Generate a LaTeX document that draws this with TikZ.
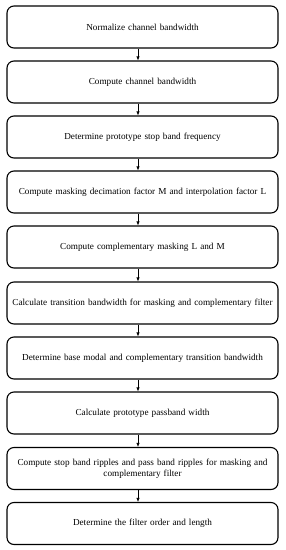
\documentclass[tikz,border=0pt]{standalone}
\usepackage{fontspec}
\setmainfont{Liberation Serif}
\usetikzlibrary{arrows.meta}
\begin{document}
\begin{tikzpicture}[x=1pt,y=-1pt,
  stepbox/.style={draw=black,line width=1.1pt,rounded corners=7pt,minimum width=271pt,minimum height=42pt,inner sep=1pt,align=center,font=\fontsize{9.2}{11.5}\selectfont,text width=268pt},
  arr/.style={draw=black,line width=0.6pt,-{Latex[length=4pt,width=3.4pt]}}]
\useasboundingbox (0,0) rectangle (285,550);
\coordinate (ax) at (138,0);
\node[stepbox] (b1) at (142.5,27) {Normalize channel bandwidth};
\node[stepbox] (b2) at (142.5,82) {Compute channel bandwidth};
\node[stepbox] (b3) at (142.5,137) {Determine prototype stop band frequency};
\node[stepbox] (b4) at (142.5,192) {Compute masking decimation factor M and interpolation factor L};
\node[stepbox] (b5) at (142.5,247) {Compute complementary masking L and M};
\node[stepbox] (b6) at (142.5,303) {Calculate transition bandwidth for masking and complementary filter};
\node[stepbox] (b7) at (142.5,358) {Determine base modal and complementary transition bandwidth};
\node[stepbox] (b8) at (142.5,413) {Calculate prototype passband width};
\node[stepbox] (b9) at (142.5,468.5) {Compute stop band ripples and pass band ripples for masking and\\ complementary filter};
\node[stepbox] (b10) at (142.5,523.5) {Determine the filter order and length};
\foreach \a/\b in {b1/b2,b2/b3,b3/b4,b4/b5,b5/b6,b6/b7,b7/b8,b8/b9,b9/b10}
  \draw[arr] (\a.south -| ax) -- (\b.north -| ax);
\end{tikzpicture}
\end{document}
